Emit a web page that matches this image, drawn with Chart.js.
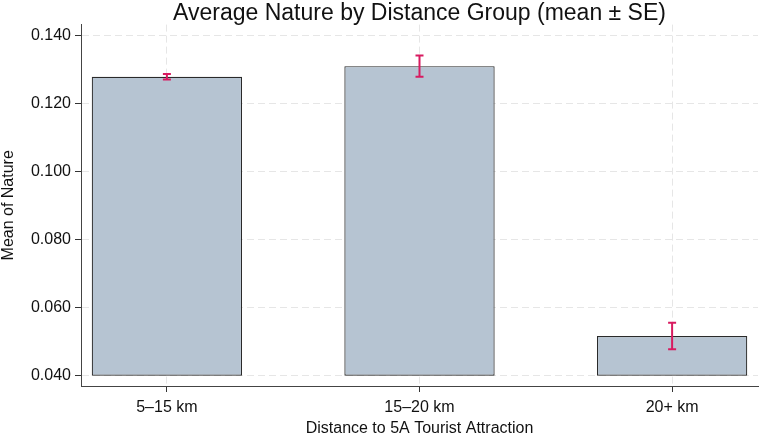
<!DOCTYPE html>
<html>
<head>
<meta charset="utf-8">
<script src="https://cdn.jsdelivr.net/npm/chart.js@4"></script>
<style>
html,body{margin:0;padding:0;background:#fff;}
#wrap{width:760px;height:435px;}
</style>
</head>
<body>
<div id="wrap"><canvas id="c" width="760" height="435"></canvas></div>
<script>
const categories = ["5\u201315 km", "15\u201320 km", "20+ km"];
const means = [0.1278, 0.1309, 0.0517];
const stdErrors = [0.0008, 0.0031, 0.0039];
const yTicks = [0.040, 0.060, 0.080, 0.100, 0.120, 0.140];
const yFloor = 0.040;
const yRange = [0.0370, 0.1431];
const xRange = [-0.34, 2.34];

const errorBars = {
  id: 'errorBars',
  afterDatasetsDraw(chart) {
    const ctx = chart.ctx, xs = chart.scales.x, ys = chart.scales.y;
    ctx.save();
    ctx.strokeStyle = '#d81b60';
    ctx.lineWidth = 2;
    means.forEach((m, i) => {
      const x = xs.getPixelForValue(i);
      const yt = ys.getPixelForValue(m + stdErrors[i]);
      const yb = ys.getPixelForValue(m - stdErrors[i]);
      ctx.beginPath();
      ctx.moveTo(x, yt); ctx.lineTo(x, yb);
      ctx.moveTo(x - 4, yt); ctx.lineTo(x + 4, yt);
      ctx.moveTo(x - 4, yb); ctx.lineTo(x + 4, yb);
      ctx.stroke();
    });
    ctx.restore();
  }
};

const FONT = "'Liberation Sans', Arial, sans-serif";
new Chart(document.getElementById('c'), {
  type: 'bar',
  data: {
    datasets: [{
      data: means.map((m, i) => ({x: i, y: [yFloor, m]})),
      backgroundColor: '#b6c4d2',
      borderColor: '#2a2a2a',
      borderWidth: 1.2,
      borderSkipped: false,
      barPercentage: 0.595,
      categoryPercentage: 1.0
    }]
  },
  options: {
    responsive: false,
    animation: false,
    layout: {padding: {top: 0, right: 2, left: 0, bottom: 0}},
    plugins: {
      legend: {display: false},
      tooltip: {enabled: false},
      title: {
        display: true,
        text: 'Average Nature by Distance Group (mean \u00b1 SE)',
        color: '#111',
        font: {family: FONT, size: 23, weight: 'normal'},
        padding: {top: 0, bottom: -3},
        fullSize: false
      }
    },
    scales: {
      x: {
        type: 'linear',
        offset: false,
        min: xRange[0], max: xRange[1],
        afterBuildTicks: s => { s.ticks = categories.map((c, i) => ({value: i})); },
        afterFit: s => { s.height = 49; },
        ticks: {
          callback: (v) => categories[v],
          color: '#111',
          font: {family: FONT, size: 16},
          padding: 6,
          maxRotation: 0
        },
        grid: {
          offset: false,
          color: '#e6e6e6',
          drawTicks: true,
          tickLength: 6,
          tickColor: '#333',
          tickBorderDash: []
        },
        border: {display: true, color: '#444', width: 1, dash: [7, 4]},
        title: {
          display: true,
          text: 'Distance to 5A Tourist Attraction',
          color: '#111',
          font: {family: FONT, size: 16},
          padding: {top: 0, bottom: -3}
        }
      },
      y: {
        min: yRange[0], max: yRange[1],
        afterBuildTicks: s => { s.ticks = yTicks.map(v => ({value: v})); },
        afterFit: s => { s.width = 81; },
        ticks: {
          callback: v => Number(v).toFixed(3),
          color: '#111',
          font: {family: FONT, size: 16},
          padding: 4
        },
        grid: {
          color: '#e6e6e6',
          drawTicks: true,
          tickLength: 6,
          tickColor: '#333',
          tickBorderDash: []
        },
        border: {display: true, color: '#444', width: 1, dash: [7, 4]},
        title: {
          display: true,
          text: 'Mean of Nature',
          color: '#111',
          font: {family: FONT, size: 16},
          padding: {top: -1, bottom: 0}
        }
      }
    }
  },
  plugins: [errorBars]
});
</script>
</body>
</html>
